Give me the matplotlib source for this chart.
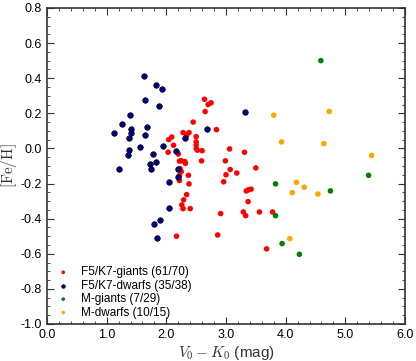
import matplotlib
matplotlib.use("Agg")
import matplotlib.pyplot as plt
from matplotlib.ticker import MultipleLocator, FormatStrFormatter

# F5/K7 giants
giants_x = [2.64, 2.70, 2.75, 2.65, 2.45, 2.28, 2.38, 2.34, 2.09, 2.04,
            2.50, 2.50, 2.50, 2.50, 2.52, 2.84, 2.12, 2.03, 2.20, 2.60,
            3.06, 3.31, 2.22, 2.31, 2.32, 2.25, 2.59, 2.99, 3.50, 3.07,
            3.18, 3.00, 2.23, 2.25, 2.37, 2.22, 2.38, 2.22, 2.96, 3.34,
            3.38, 3.42, 3.37, 2.34, 2.29, 2.26, 2.28, 2.40, 2.91, 3.29,
            3.33, 3.56, 3.78, 2.86, 3.68, 2.17]
giants_y = [0.28, 0.25, 0.26, 0.21, 0.15, 0.09, 0.09, 0.075, 0.065, 0.05,
            0.067, 0.037, 0.02, 0.0, -0.01, 0.107, 0.018, -0.022, -0.032, -0.013,
            -0.003, -0.022, -0.072, -0.075, -0.085, -0.07, -0.071, -0.071, -0.111, -0.12,
            -0.14, -0.15, -0.115, -0.132, -0.153, -0.155, -0.202, -0.183, -0.19, -0.242,
            -0.235, -0.232, -0.303, -0.263, -0.293, -0.322, -0.343, -0.343, -0.371, -0.362,
            -0.383, -0.362, -0.362, -0.493, -0.572, -0.50]

# F5/K7 dwarfs
dwarfs_x = [1.62, 1.83, 1.93, 1.65, 1.87, 1.39, 1.26, 1.13, 1.41, 1.41,
            1.67, 1.37, 1.65, 1.56, 1.94, 1.38, 1.36, 1.78, 2.16, 2.31,
            2.68, 3.32, 1.21, 1.73, 1.83, 1.74, 2.19, 2.19, 2.05, 2.05,
            1.90, 1.80, 1.84]
dwarfs_y = [0.41, 0.36, 0.337, 0.274, 0.24, 0.19, 0.14, 0.09, 0.11, 0.087,
            0.12, 0.06, 0.077, 0.01, 0.016, -0.01, -0.04, -0.03, -0.015, 0.06,
            0.11, 0.21, -0.12, -0.09, -0.08, -0.12, -0.12, -0.16, -0.19, -0.34,
            -0.41, -0.43, -0.51]

# M giants
mgiants_x = [4.59, 5.39, 3.83, 4.75, 3.83, 3.94, 4.23]
mgiants_y = [0.50, -0.153, -0.202, -0.242, -0.383, -0.542, -0.603]

# M dwarfs
mdwarfs_x = [3.80, 4.73, 3.93, 4.64, 5.44, 4.18, 4.11, 4.31, 4.54, 4.07]
mdwarfs_y = [0.189, 0.21, 0.037, 0.027, -0.04, -0.193, -0.252, -0.221, -0.26, -0.514]

labels = ["F5/K7-giants (61/70)", "F5/K7-dwarfs (35/38)", "M-giants (7/29)", "M-dwarfs (10/15)"]

plt.rcParams['font.family'] = ['Liberation Sans', 'DejaVu Sans']
plt.rcParams['mathtext.fontset'] = 'cm'

fig = plt.figure(figsize=(4.16, 3.61), dpi=100)
ax = fig.add_axes([0.113, 0.1025, 0.8606, 0.8755])

ax.scatter(giants_x, giants_y, s=16, color='red', edgecolors='none', label=labels[0])
ax.scatter(dwarfs_x, dwarfs_y, s=16, color='#000088', edgecolors='black', linewidths=0.5, label=labels[1])
ax.scatter(mgiants_x, mgiants_y, s=16, color='green', edgecolors='none', label=labels[2])
ax.scatter(mdwarfs_x, mdwarfs_y, s=16, color='orange', edgecolors='none', label=labels[3])

ax.set_xlim(0, 6)
ax.set_ylim(-1.0, 0.8)
ax.xaxis.set_major_locator(MultipleLocator(1.0))
ax.xaxis.set_minor_locator(MultipleLocator(0.2))
ax.yaxis.set_major_locator(MultipleLocator(0.2))
ax.yaxis.set_minor_locator(MultipleLocator(0.05))
ax.xaxis.set_major_formatter(FormatStrFormatter('%.1f'))
ax.yaxis.set_major_formatter(lambda v, p: ('%.1f' % v).replace('\u2212', '-'))
ax.tick_params(which='both', direction='in', top=True, right=True, labelsize=9, colors='#333333', labelcolor='black')
ax.tick_params(which='major', length=5, width=0.8)
ax.tick_params(which='minor', length=2.5, width=0.6)
for sp in ax.spines.values():
    sp.set_linewidth(1.2)
    sp.set_color('#333333')

ax.set_xlabel(r'$V_0 - K_0$ (mag)', fontsize=11, color='#333333', labelpad=2)
ax.set_ylabel(r'$[\mathrm{Fe/H}]$', fontsize=11, color='#333333')
ax.yaxis.set_label_coords(-0.078, 0.5)

ax.legend(loc='lower left', frameon=False, fontsize=8.5, handlelength=1.9, handletextpad=0.55,
          labelspacing=0.12, borderpad=0, borderaxespad=0, bbox_to_anchor=(0.014, 0.017),
          markerscale=0.65)

fig.savefig('out.png', dpi=100)
